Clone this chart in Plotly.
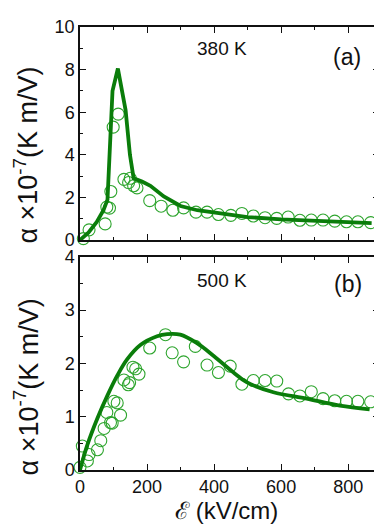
import plotly.graph_objects as go
from plotly.subplots import make_subplots

# panel (a) 380 K - measured points
exp_a_x = [-2, 10, 27, 75, 80, 88, 92, 99, 114, 131, 145, 150, 160, 170,
           208, 242, 277, 309, 346, 379, 413, 450, 483, 517, 552, 587,
           621, 656, 690, 725, 760, 795, 829, 867]
exp_a_y = [0.2, 0.07, 0.48, 0.76, 1.55, 1.5, 2.28, 5.3, 5.91, 2.85, 2.7, 2.9, 2.55, 2.45,
           1.85, 1.59, 1.4, 1.51, 1.31, 1.31, 1.2, 1.16, 1.25, 1.13, 1.05, 1.02,
           1.08, 0.93, 0.94, 0.94, 0.89, 0.86, 0.86, 0.82]

# panel (a) model curve
fit_a_x = [0, 25, 50, 70, 82, 87, 93, 97, 113, 125, 136, 149, 160, 185, 210,
           250, 300, 350, 400, 450, 500, 600, 700, 800, 870]
fit_a_y = [0, 0.35, 0.85, 1.4, 1.9, 3.6, 6.2, 7.0, 8.05, 7.1, 6.1, 4.0, 2.9, 2.75, 2.55,
           2.05, 1.6, 1.4, 1.28, 1.17, 1.08, 0.97, 0.9, 0.83, 0.8]

# panel (b) 500 K - measured points
exp_b_x = [0, 7, 22, 27, 52, 62, 72, 80, 91, 96, 101, 111, 121, 131, 144, 148,
           158, 166, 176, 208, 255, 275, 309, 344, 379, 413, 448, 483, 517, 552,
           587, 622, 656, 690, 725, 760, 795, 829, 867]
exp_b_y = [0.05, 0.45, 0.17, 0.29, 0.38, 0.55, 0.78, 1.08, 0.89, 0.88, 1.29, 1.26, 1.03,
           1.69, 1.6, 1.64, 1.93, 1.9, 1.8, 2.29, 2.54, 2.2, 2.03, 2.32, 1.97, 1.83,
           1.95, 1.61, 1.68, 1.68, 1.67, 1.43, 1.39, 1.47, 1.34, 1.3, 1.29, 1.29, 1.28]

# panel (b) model curve
fit_b_x = [0, 22, 52, 82, 111, 141, 181, 230, 260, 299, 349, 399, 458, 497,
           577, 676, 775, 864]
fit_b_y = [0, 0.47, 0.97, 1.4, 1.77, 2.08, 2.35, 2.51, 2.55, 2.54, 2.38, 2.14, 1.83,
           1.65, 1.46, 1.34, 1.21, 1.14]

line_col = "#0a7d0a"
mk_col = "#2ea52e"
font = "Arial, Liberation Sans, sans-serif"

fig = make_subplots(rows=2, cols=1, vertical_spacing=0.038)

for row, (ex, ey, fx, fy, shape) in enumerate(
        [(exp_a_x, exp_a_y, fit_a_x, fit_a_y, "linear"),
         (exp_b_x, exp_b_y, fit_b_x, fit_b_y, "spline")], start=1):
    fig.add_trace(go.Scatter(x=ex, y=ey, mode="markers", cliponaxis=False,
                             marker=dict(symbol="circle-open", size=12,
                                         color=mk_col, line=dict(width=1.1, color=mk_col))),
                  row=row, col=1)
    fig.add_trace(go.Scatter(x=fx, y=fy, mode="lines", cliponaxis=False,
                             line=dict(color=line_col, width=3.8, shape=shape)),
                  row=row, col=1)

axis_style = dict(showline=True, linecolor="#111", linewidth=1.5, mirror="ticks",
                  ticks="inside", ticklen=6, tickwidth=1.3, tickcolor="#111",
                  showgrid=False, zeroline=False,
                  tickfont=dict(family=font, size=18, color="#111"))

fig.update_xaxes(axis_style, range=[0, 892], dtick=200, tick0=0,
                 minor=dict(dtick=100, ticks="inside", ticklen=3, tickcolor="#111"))
fig.update_xaxes(showticklabels=False, row=1, col=1)
fig.update_yaxes(axis_style)
fig.update_yaxes(range=[0, 10], dtick=2,
                 minor=dict(dtick=1, ticks="inside", ticklen=3, tickcolor="#111"),
                 row=1, col=1)
fig.update_yaxes(range=[0, 4], dtick=1,
                 minor=dict(dtick=0.5, ticks="inside", ticklen=3, tickcolor="#111"),
                 row=2, col=1)

fig.update_layout(yaxis=dict(domain=[0.519, 1]), yaxis2=dict(domain=[0, 0.481]))

# helpers: pixel position -> paper coordinates
def px(x):
    return (x - 72) / 301

def py(y):
    return (462 - y) / 449

ytitle = "α ×10<sup>-7</sup>(K m/V)"
annots = [
    dict(x=px(215), y=py(35), text="380 K", size=19),
    dict(x=px(341), y=py(43), text="(a)", size=23),
    dict(x=px(215), y=py(270), text="500 K", size=19),
    dict(x=px(342), y=py(273), text="(b)", size=23),
    dict(x=px(219), y=py(503), text="ℰ (kV/cm)", size=24),
    dict(x=px(18), y=py(143), text=ytitle, size=27, angle=-90),
    dict(x=px(18), y=py(378), text=ytitle, size=27, angle=-90),
]
for a in annots:
    fig.add_annotation(x=a["x"], y=a["y"], xref="paper", yref="paper",
                       text=a["text"], showarrow=False, textangle=a.get("angle", 0),
                       xanchor="center", yanchor="middle",
                       font=dict(family=font, size=a["size"], color="#111"))

fig.update_layout(width=382, height=528, showlegend=False,
                  margin=dict(l=72, r=9, t=13, b=66),
                  paper_bgcolor="white", plot_bgcolor="white")

fig.write_html("out.html")
